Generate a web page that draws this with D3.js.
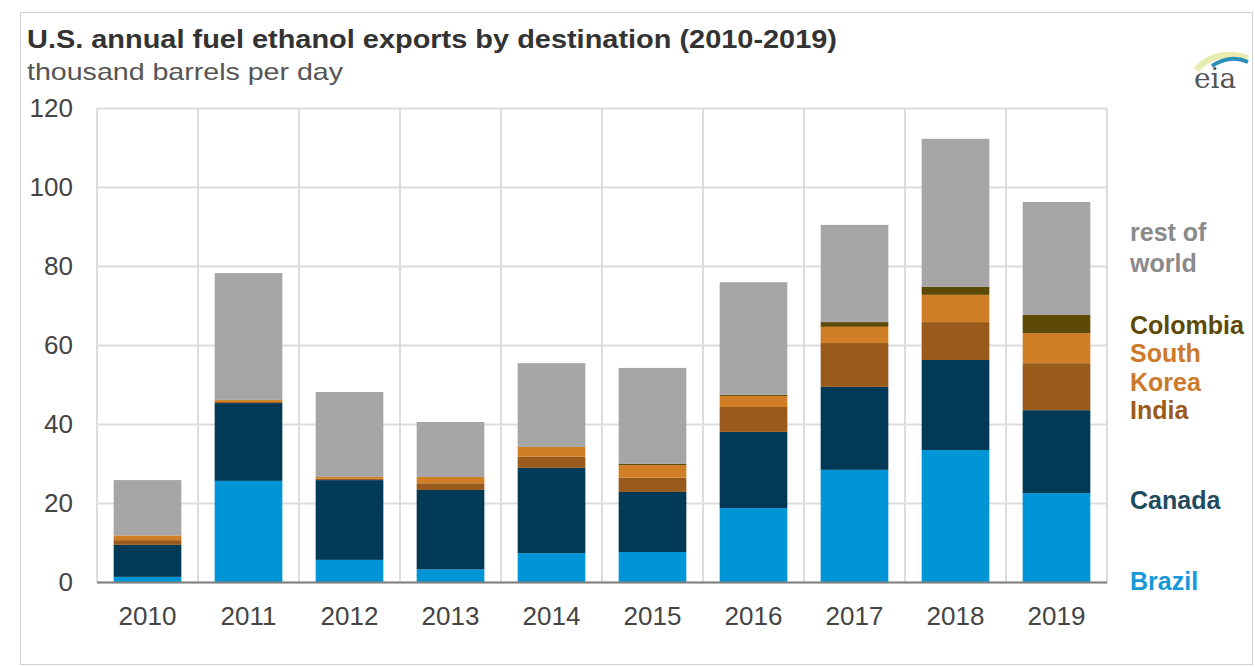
<!DOCTYPE html>
<html>
<head>
<meta charset="utf-8">
<script src="https://cdn.jsdelivr.net/npm/d3@7"></script>
<style>
  body { margin: 0; background: #fff; font-family: Arial, "Liberation Sans", sans-serif; }
</style>
</head>
<body>
<svg id="chart"></svg>
<script>
const width = 1255;
const height = 667;
const margin = { top: 108, right: 148, bottom: 85, left: 97 };

const years = ['2010', '2011', '2012', '2013', '2014', '2015', '2016', '2017', '2018', '2019'];
const brazil = [1.3, 25.6, 5.6, 3.2, 7.3, 7.6, 18.7, 28.4, 33.4, 22.5];
const canada = [8.1, 19.7, 20.2, 20.1, 21.6, 15.2, 19.3, 21.0, 22.8, 21.0];
const india = [1.2, 0.3, 0.4, 1.7, 2.8, 3.6, 6.3, 11.1, 9.6, 11.9];
const southKorea = [1.2, 0.5, 0.4, 1.6, 2.5, 3.2, 2.8, 4.1, 6.9, 7.6];
const colombia = [0, 0, 0, 0, 0, 0.3, 0.3, 1.2, 2.0, 4.6];
const restOfWorld = [14.0, 32.1, 21.5, 13.9, 21.2, 24.3, 28.5, 24.6, 37.5, 28.6];
const yTicks = [0, 20, 40, 60, 80, 100, 120];

const keys = ['brazil', 'canada', 'india', 'southKorea', 'colombia', 'restOfWorld'];
const colors = {
    brazil: '#0095d6',
    canada: '#003a56',
    india: '#9a5a1c',
    southKorea: '#d07f27',
    colombia: '#5c4a06',
    restOfWorld: '#a6a6a6'
};

// labels on the right, placed at the value where they sit in the original
const legendItems = [
    { lines: ['rest of', 'world'], value: [88.6, 80.8], color: '#8a8a8a' },
    { lines: ['Colombia'], value: [65.0], color: '#5c4a06' },
    { lines: ['South', 'Korea'], value: [57.9, 50.5], color: '#cc7a2a' },
    { lines: ['India'], value: [43.5], color: '#9a5a1c' },
    { lines: ['Canada'], value: [20.8], color: '#1f4b5e' },
    { lines: ['Brazil'], value: [0.3], color: '#1699d6' }
];

const table = years.map((y, i) => ({
    year: y,
    brazil: brazil[i],
    canada: canada[i],
    india: india[i],
    southKorea: southKorea[i],
    colombia: colombia[i],
    restOfWorld: restOfWorld[i]
}));

const svg = d3.select('#chart')
    .attr('width', width)
    .attr('height', height);

// outer frame
svg.append('rect')
    .attr('x', 20.5).attr('y', 12.5)
    .attr('width', width - 23).attr('height', height - 15)
    .attr('fill', 'none')
    .attr('stroke', '#d0d0d0');

svg.append('text')
    .attr('x', 27).attr('y', 48)
    .attr('font-size', 26).attr('font-weight', 'bold')
    .attr('fill', '#333')
    .attr('textLength', 810).attr('lengthAdjust', 'spacingAndGlyphs')
    .text('U.S. annual fuel ethanol exports by destination (2010-2019)');

svg.append('text')
    .attr('x', 27).attr('y', 80)
    .attr('font-size', 24)
    .attr('fill', '#555')
    .attr('textLength', 316).attr('lengthAdjust', 'spacingAndGlyphs')
    .text('thousand barrels per day');

const xScale = d3.scaleBand()
    .domain(years)
    .range([margin.left, width - margin.right])
    .paddingInner(0.33)
    .paddingOuter(0.165);

const yScale = d3.scaleLinear()
    .domain([0, 120])
    .range([height - margin.bottom, margin.top]);

// horizontal grid
svg.append('g')
    .selectAll('line')
    .data(yTicks)
    .join('line')
    .attr('x1', margin.left).attr('x2', width - margin.right)
    .attr('y1', d => yScale(d) + 0.5).attr('y2', d => yScale(d) + 0.5)
    .attr('stroke', '#dcdcdc').attr('stroke-width', 2);

// vertical grid at category boundaries
const step = xScale.step();
svg.append('g')
    .selectAll('line')
    .data(d3.range(years.length + 1))
    .join('line')
    .attr('x1', i => margin.left + i * step).attr('x2', i => margin.left + i * step)
    .attr('y1', yScale(120)).attr('y2', yScale(0))
    .attr('stroke', '#dcdcdc').attr('stroke-width', 2);

const stack = d3.stack().keys(keys)(table);

svg.append('g')
    .selectAll('g')
    .data(stack)
    .join('g')
    .attr('fill', d => colors[d.key])
    .selectAll('rect')
    .data(d => d)
    .join('rect')
    .attr('x', d => xScale(d.data.year))
    .attr('y', d => yScale(d[1]))
    .attr('width', xScale.bandwidth())
    .attr('height', d => Math.max(0, yScale(d[0]) - yScale(d[1])));

// baseline
svg.append('line')
    .attr('x1', margin.left).attr('x2', width - margin.right)
    .attr('y1', yScale(0) + 0.5).attr('y2', yScale(0) + 0.5)
    .attr('stroke', '#808080').attr('stroke-width', 2);

// y labels
svg.append('g')
    .selectAll('text')
    .data(yTicks)
    .join('text')
    .attr('x', 73)
    .attr('y', d => yScale(d))
    .attr('dy', '0.35em')
    .attr('text-anchor', 'end')
    .attr('font-size', 26)
    .attr('fill', '#444')
    .text(d => d);

// x labels
svg.append('g')
    .selectAll('text')
    .data(years)
    .join('text')
    .attr('x', d => xScale(d) + xScale.bandwidth() / 2)
    .attr('y', 625)
    .attr('text-anchor', 'middle')
    .attr('font-size', 26)
    .attr('fill', '#444')
    .text(d => d);

// right labels
const legend = svg.append('g');
legendItems.forEach(item => {
    item.lines.forEach((line, j) => {
        legend.append('text')
            .attr('x', 1130)
            .attr('y', yScale(item.value[j]))
            .attr('dy', '0.35em')
            .attr('font-size', 25)
            .attr('font-weight', 'bold')
            .attr('fill', item.color)
            .text(line);
    });
});

// eia logo
const logo = svg.append('g').attr('transform', 'translate(1190, 44)');
logo.append('path')
    .attr('d', 'M6,26 Q26,4 58,14')
    .attr('fill', 'none').attr('stroke', '#e8ecb0').attr('stroke-width', 6);
logo.append('path')
    .attr('d', 'M22,22 Q40,10 58,18')
    .attr('fill', 'none').attr('stroke', '#2b8fb8').attr('stroke-width', 4);
logo.append('text')
    .attr('x', 4).attr('y', 44)
    .attr('font-family', '"DejaVu Serif", "Liberation Serif", serif')
    .attr('font-size', 28)
    .attr('fill', '#555')
    .text('eia');
</script>
</body>
</html>
